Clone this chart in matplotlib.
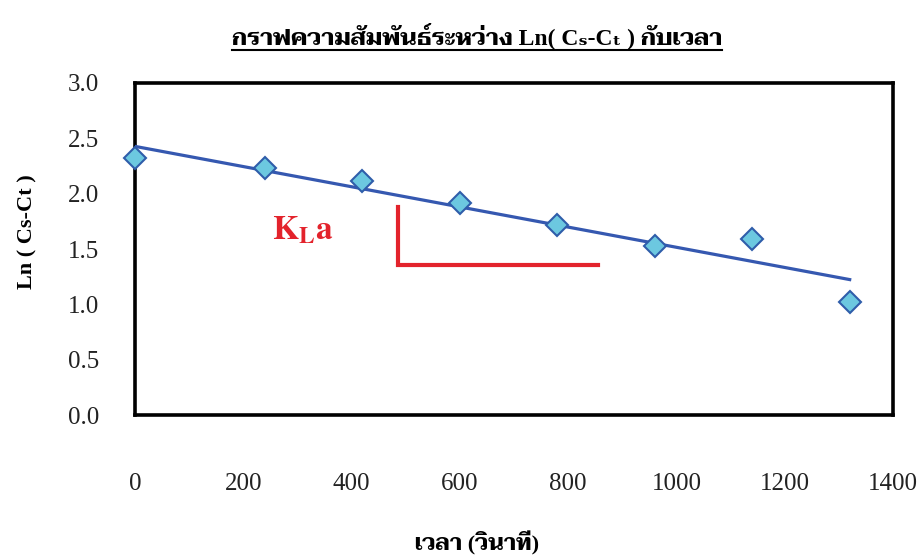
import matplotlib
matplotlib.use('Agg')
import matplotlib.pyplot as plt
from matplotlib.lines import Line2D
import numpy as np

plt.rcParams['font.family'] = ['Liberation Serif', 'Taviraj', 'DejaVu Serif', 'DejaVu Sans']
plt.rcParams['mathtext.fontset'] = 'stix'

# ข้อมูลจากกราฟ
time_s = [0, 240, 420, 600, 780, 960, 1140, 1320]
ln_cs_ct = [2.32, 2.23, 2.11, 1.92, 1.72, 1.53, 1.59, 1.02]
x_ticks = [0, 200, 400, 600, 800, 1000, 1200, 1400]
y_ticks = [0.0, 0.5, 1.0, 1.5, 2.0, 2.5, 3.0]

title = 'กราฟความสัมพันธ์ระหว่าง Ln( Cₛ-Cₜ ) กับเวลา'
x_label = 'เวลา (วินาที)'
y_label = 'Ln ( Cs-Ct )'

fig = plt.figure(figsize=(9.23, 5.57), dpi=100)
ax = fig.add_axes([0.1463, 0.2549, 0.8212, 0.5961])

# เส้นแนวโน้ม (linear)
slope, intercept = np.polyfit(time_s, ln_cs_ct, 1)
xs = np.array([time_s[0], time_s[-1]])
ax.plot(xs, slope * xs + intercept, color='#3558b0', lw=2.3, zorder=3)

ax.plot(time_s, ln_cs_ct, linestyle='none', marker='D', markersize=11,
        markerfacecolor='#6cc8e0', markeredgecolor='#2f5daa', markeredgewidth=1.5,
        zorder=4, clip_on=False)

# สัญลักษณ์ความชัน KLa
red = '#e3232c'
ax.text(310, 1.67, r'$\mathbf{K_L a}$', color=red, fontsize=24, ha='center', va='center')
ax.plot([486, 486, 855], [1.88, 1.355, 1.355], color=red, lw=3, solid_joinstyle='miter', zorder=2)

ax.set_xlim(0, 1400)
ax.set_ylim(0, 3.0)
ax.set_xticks(x_ticks)
ax.set_yticks(y_ticks)
ax.set_yticklabels([f'{v:.1f}' for v in y_ticks])
ax.tick_params(axis='x', length=0, pad=42, labelsize=18, colors='#222222')
ax.tick_params(axis='y', length=0, pad=26, labelsize=18, colors='#222222')
for s in ax.spines.values():
    s.set_linewidth(2.6)
    s.set_color('black')

t = fig.text(0.517, 0.937, title, ha='center', va='center', fontsize=17, fontweight='bold')
fig.text(0.517, 0.025, x_label, ha='center', va='center', fontsize=16, fontweight='bold')
fig.text(0.030, 0.585, y_label, ha='center', va='center', rotation=90, fontsize=16, fontweight='bold')

# ขีดเส้นใต้ชื่อกราฟ
fig.canvas.draw()
bb = t.get_window_extent().transformed(fig.transFigure.inverted())
fig.add_artist(Line2D([bb.x0, bb.x1], [bb.y0 - 0.002, bb.y0 - 0.002], color='black', lw=1.5,
                      transform=fig.transFigure))

fig.savefig('out.png', dpi=100)
